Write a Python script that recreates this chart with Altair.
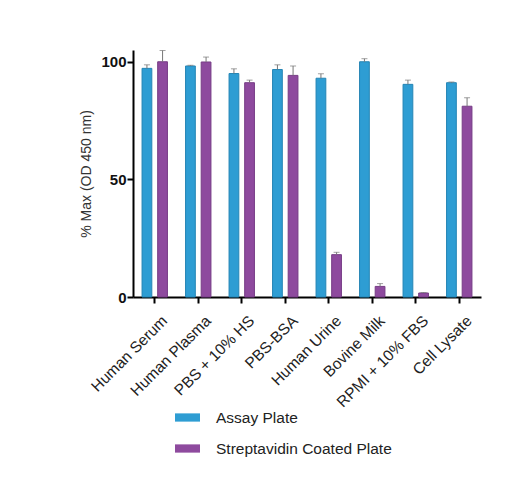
import altair as alt
import pandas as pd

categories = ["Human Serum", "Human Plasma", "PBS + 10% HS", "PBS-BSA",
              "Human Urine", "Bovine Milk", "RPMI + 10% FBS", "Cell Lysate"]
series = ["Assay Plate", "Streptavidin Coated Plate"]
assay_mean = [97.2, 98.2, 95.0, 96.7, 93.0, 100.0, 90.4, 91.1]
assay_err = [1.5, 0.3, 2.0, 2.0, 1.9, 1.3, 1.8, 0.3]
strep_mean = [100.0, 99.9, 91.1, 94.2, 18.0, 4.5, 1.7, 81.1]
strep_err = [4.8, 2.1, 1.1, 4.0, 1.0, 1.2, 0.2, 3.6]

rows = []
for i, c in enumerate(categories):
    rows.append({"cat": c, "series": series[0], "mean": assay_mean[i],
                 "top": assay_mean[i] + assay_err[i]})
    rows.append({"cat": c, "series": series[1], "mean": strep_mean[i],
                 "top": strep_mean[i] + strep_err[i]})
df = pd.DataFrame(rows)

FONT = "Liberation Sans"
color_scale = alt.Scale(domain=series, range=["#2E9DD3", "#8E4A9E"])

x = alt.X("cat:N", sort=categories, title=None,
          scale=alt.Scale(paddingInner=0.416, paddingOuter=0.208),
          axis=alt.Axis(labelAngle=-45, labelFontSize=15.5, labelFont=FONT,
                        labelColor="#222", domainColor="#000", domainWidth=2,
                        tickColor="#000", tickWidth=2, tickSize=6,
                        labelPadding=10, labelOffset=5, labelLimit=300))
xoff = alt.XOffset("series:N", sort=series,
                   scale=alt.Scale(paddingInner=0.375, paddingOuter=0))
yscale = alt.Scale(domain=[0, 105], nice=False)

bars = alt.Chart(df).mark_bar(strokeWidth=1).encode(
    x=x, xOffset=xoff,
    y=alt.Y("mean:Q", scale=yscale, title="% Max (OD 450 nm)",
            axis=alt.Axis(values=[0, 50, 100], labelFontSize=15, labelFont=FONT,
                          labelFontWeight="bold", labelColor="#111",
                          domainColor="#000", domainWidth=2, tickColor="#000",
                          tickWidth=2, tickSize=6, labelPadding=1,
                          titleFont=FONT, titleFontSize=14,
                          titleFontWeight="normal", titleColor="#333",
                          titlePadding=7, grid=False)),
    color=alt.Color("series:N", scale=color_scale, sort=series,
                    legend=alt.Legend(title=None, orient="none", legendX=42,
                                      legendY=355, symbolType="M-1,-0.33H1V0.33H-1Z",
                                      symbolSize=625, symbolStrokeWidth=0,
                                      labelFont=FONT, labelFontSize=15.5,
                                      labelColor="#222", labelOffset=16,
                                      labelLimit=400,
                                      rowPadding=10, padding=0)),
    stroke=alt.Color("series:N", sort=series,
                     scale=alt.Scale(domain=series, range=["#2585B5", "#773D86"]),
                     legend=None),
)

err = alt.Chart(df).mark_rule(color="#777", strokeWidth=1).encode(
    x=x, xOffset=xoff, y=alt.Y("mean:Q", scale=yscale), y2="top:Q")
caps = alt.Chart(df).mark_tick(color="#777", thickness=1, size=6).encode(
    x=x, xOffset=xoff, y=alt.Y("top:Q", scale=yscale))

chart = alt.layer(bars, err, caps).properties(
    width=348, height=247,
    autosize=alt.AutoSizeParams(type="none"),
    padding={"left": 125, "top": 42, "right": 17, "bottom": 174},
    background="white",
).configure_view(stroke=None)

chart.save("out.html", embed_options={"renderer": "svg", "actions": False})
